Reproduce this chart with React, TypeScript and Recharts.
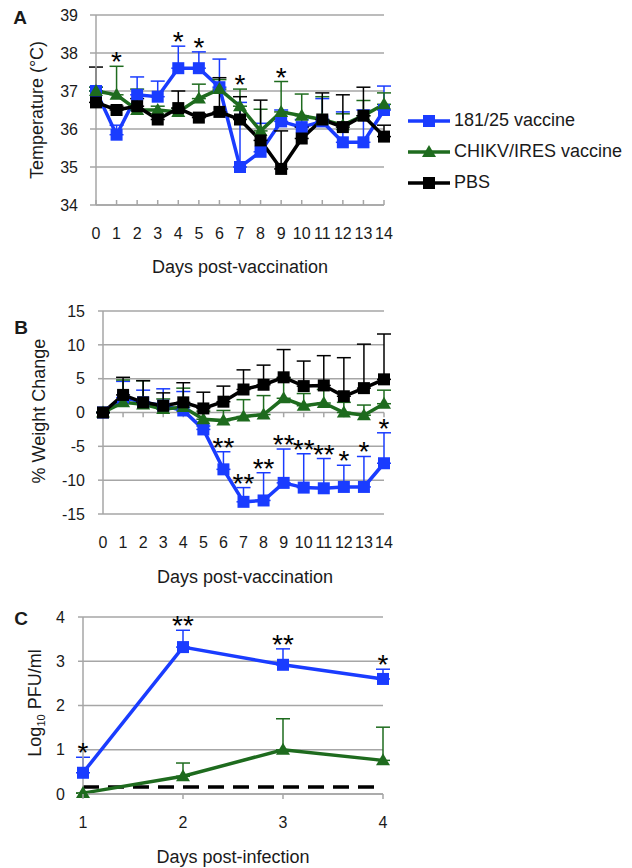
import React from 'react'
import {
  LineChart,
  Line,
  XAxis,
  YAxis,
  CartesianGrid,
  ErrorBar,
  ReferenceLine,
} from 'recharts'

const FONT = '"Liberation Sans", Arial, sans-serif'
const BLUE = '#1a3cff'
const GREEN = '#1e6b1e'
const BLACK = '#000000'
const GRID = '#a6a6a6'
const TEXT = '#1a1a1a'

const SERIES = ['181/25 vaccine', 'CHIKV/IRES vaccine', 'PBS']

// A + B: days post-vaccination
const VAC_DAYS = [0, 1, 2, 3, 4, 5, 6, 7, 8, 9, 10, 11, 12, 13, 14]

const TEMP_181 = [37.0, 35.85, 36.9, 36.85, 37.6, 37.6, 37.1, 35.0, 35.4, 36.2, 36.05, 36.2, 35.65, 35.65, 36.5]
const TEMP_181_ERR = [0.1, 0.25, 0.47, 0.41, 0.58, 0.43, 0.74, 1.7, 0.75, 0.3, 0.2, 0.6, 0.8, 0.85, 0.63]
const TEMP_IRES = [37.0, 36.9, 36.5, 36.5, 36.45, 36.8, 37.05, 36.6, 35.95, 36.45, 36.35, 36.25, 36.1, 36.35, 36.65]
const TEMP_IRES_ERR = [0.1, 0.75, 0.55, 0.1, 0.1, 0.38, 0.25, 0.45, 0.57, 0.8, 0.57, 0.6, 0.3, 0.4, 0.3]
const TEMP_PBS = [36.7, 36.5, 36.6, 36.25, 36.55, 36.3, 36.45, 36.25, 35.7, 34.95, 35.75, 36.25, 36.05, 36.35, 35.8]
const TEMP_PBS_ERR = [0.93, 0.1, 0.2, 0.1, 0.45, 0.1, 0.9, 0.6, 1.06, 1.0, 0.3, 0.7, 0.85, 0.75, 0.3]
const TEMP_STARS = ['', '*', '', '', '*', '*', '', '*', '', '*', '', '', '', '', '']

const WT_181 = [0, 2.2, 1.5, 1.0, 0.3, -2.5, -8.4, -13.2, -13.0, -10.4, -11.1, -11.2, -11.0, -11.0, -7.5]
const WT_181_ERR = [0, 2.4, 1.8, 2.5, 2.8, 0.5, 2.6, 2.1, 4.1, 5.0, 5.0, 4.4, 3.2, 4.5, 4.5]
const WT_IRES = [0, 1.5, 1.2, 0.5, 0.8, -1.0, -1.2, -0.6, -0.3, 2.1, 1.0, 1.4, 0.0, -0.4, 1.3]
const WT_IRES_ERR = [0, 3.3, 3.5, 1.5, 2.8, 1.2, 1.5, 2.5, 2.8, 3.0, 1.8, 2.0, 1.5, 1.5, 2.0]
const WT_PBS = [0, 2.6, 1.5, 1.0, 1.5, 0.6, 1.6, 3.4, 4.1, 5.2, 3.9, 4.0, 2.4, 3.6, 4.9]
const WT_PBS_ERR = [0, 2.6, 3.2, 1.9, 2.9, 2.4, 2.3, 2.9, 2.9, 4.1, 3.7, 4.4, 5.7, 6.5, 6.7]
const WT_STARS = ['', '', '', '', '', '', '**', '**', '**', '**', '**', '**', '*', '*', '*']

// C: days post-infection
const INF_DAYS = [1, 2, 3, 4]
const PFU_181 = [0.48, 3.32, 2.92, 2.6]
const PFU_181_ERR = [0.35, 0.38, 0.36, 0.22]
const PFU_IRES = [0.02, 0.4, 1.0, 0.76]
const PFU_IRES_ERR = [0, 0.3, 0.7, 0.75]
const PFU_STARS = ['*', '**', '**', '*']
const PFU_LIMIT = 0.16

const TEMP_TICKS = [34, 35, 36, 37, 38, 39]
const WT_TICKS = [-15, -10, -5, 0, 5, 10, 15]
const PFU_TICKS = [0, 1, 2, 3, 4]

// rows for recharts; starAt = top of the error bar the asterisks sit on
const tempData = VAC_DAYS.map((day, i) => {
  const tops = [
    TEMP_181[i] + TEMP_181_ERR[i],
    TEMP_IRES[i] + TEMP_IRES_ERR[i],
    TEMP_PBS[i] + TEMP_PBS_ERR[i],
  ]
  return {
    day,
    v181: TEMP_181[i],
    e181: [0, TEMP_181_ERR[i]],
    ires: TEMP_IRES[i],
    eIres: [0, TEMP_IRES_ERR[i]],
    pbs: TEMP_PBS[i],
    ePbs: [0, TEMP_PBS_ERR[i]],
    star: TEMP_STARS[i],
    starAt: TEMP_STARS[i] ? Math.max(...tops) : null,
  }
})

const wtData = VAC_DAYS.map((day, i) => ({
  day,
  v181: WT_181[i],
  e181: [0, WT_181_ERR[i]],
  ires: WT_IRES[i],
  eIres: [0, WT_IRES_ERR[i]],
  pbs: WT_PBS[i],
  ePbs: [0, WT_PBS_ERR[i]],
  star: WT_STARS[i],
  starAt: WT_STARS[i] ? WT_181[i] + WT_181_ERR[i] : null,
}))

const pfuData = INF_DAYS.map((day, i) => ({
  day,
  v181: PFU_181[i],
  e181: [0, PFU_181_ERR[i]],
  ires: PFU_IRES[i],
  eIres: [0, PFU_IRES_ERR[i]],
  star: PFU_STARS[i],
  starAt: PFU_STARS[i] ? PFU_181[i] + PFU_181_ERR[i] : null,
}))

const squareDot = (color: string) => (p: any) => {
  if (p.cy == null) return <g key={`sq-${p.index}`} />
  return <rect key={`sq-${p.index}`} x={p.cx - 6} y={p.cy - 6} width={12} height={12} fill={color} />
}

const triangleDot = (color: string) => (p: any) => {
  if (p.cy == null) return <g key={`tr-${p.index}`} />
  const { cx, cy } = p
  return (
    <path
      key={`tr-${p.index}`}
      d={`M${cx},${cy - 7} L${cx + 7},${cy + 5} L${cx - 7},${cy + 5} Z`}
      fill={color}
    />
  )
}

const starDot = (p: any) => {
  if (p.cy == null || !p.payload.star) return <g key={`st-${p.index}`} />
  return (
    <text
      key={`st-${p.index}`}
      x={p.cx}
      y={p.cy + 5}
      textAnchor="middle"
      fontSize={28}
      fontFamily={FONT}
      fill="#000"
    >
      {p.payload.star}
    </text>
  )
}

// x tick: label below the plot, small mark pointing up / down / none
const xTick = (mark: 'up' | 'down' | 'none') => (p: any) => {
  const { x, y, payload } = p
  return (
    <g>
      {mark === 'up' && <line x1={x} x2={x} y1={y} y2={y - 5} stroke={GRID} strokeWidth={1.5} />}
      {mark === 'down' && <line x1={x} x2={x} y1={y} y2={y + 5} stroke={GRID} strokeWidth={1.5} />}
      <text x={x} y={y + 34} textAnchor="middle" fontSize={16} fontFamily={FONT} fill={TEXT}>
        {payload.value}
      </text>
    </g>
  )
}

const yTickStyle = { fontSize: 16, fill: TEXT, fontFamily: FONT }

function seriesLines(withPbs: boolean) {
  const out = [
    <Line
      key="181"
      dataKey="v181"
      stroke={BLUE}
      strokeWidth={3.5}
      dot={squareDot(BLUE)}
      activeDot={false}
      isAnimationActive={false}
    >
      <ErrorBar dataKey="e181" direction="y" width={7} stroke={BLUE} strokeWidth={1.5} />
    </Line>,
    <Line
      key="ires"
      dataKey="ires"
      stroke={GREEN}
      strokeWidth={3.5}
      dot={triangleDot(GREEN)}
      activeDot={false}
      isAnimationActive={false}
    >
      <ErrorBar dataKey="eIres" direction="y" width={7} stroke={GREEN} strokeWidth={1.5} />
    </Line>,
  ]
  if (withPbs) {
    out.push(
      <Line
        key="pbs"
        dataKey="pbs"
        stroke={BLACK}
        strokeWidth={3.5}
        dot={squareDot(BLACK)}
        activeDot={false}
        isAnimationActive={false}
      >
        <ErrorBar dataKey="ePbs" direction="y" width={7} stroke={BLACK} strokeWidth={1.5} />
      </Line>
    )
  }
  out.push(
    <Line
      key="stars"
      dataKey="starAt"
      stroke="none"
      dot={starDot}
      activeDot={false}
      legendType="none"
      isAnimationActive={false}
    />
  )
  return out
}

function Abs({ x, y, children, rotate, style }: any) {
  return (
    <div
      style={{
        position: 'absolute',
        left: x,
        top: y,
        transform: `translate(-50%, -50%)${rotate ? ' rotate(-90deg)' : ''}`,
        whiteSpace: 'nowrap',
        ...style,
      }}
    >
      {children}
    </div>
  )
}

function LegendBox() {
  const marks = [
    <rect key="a" x={15} y={2} width={12} height={12} fill={BLUE} />,
    <path key="b" d="M21,1 L28,13 L14,13 Z" fill={GREEN} />,
    <rect key="c" x={15} y={2} width={12} height={12} fill={BLACK} />,
  ]
  const colors = [BLUE, GREEN, BLACK]
  return (
    <div style={{ position: 'absolute', left: 408, top: 105 }}>
      {SERIES.map((name, i) => (
        <div key={name} style={{ display: 'flex', alignItems: 'center', height: 31 }}>
          <svg width={44} height={16}>
            <line x1={0} x2={42} y1={8} y2={8} stroke={colors[i]} strokeWidth={3.5} />
            {marks[i]}
          </svg>
          <span style={{ fontSize: 18, marginLeft: 2 }}>{name}</span>
        </div>
      ))}
    </div>
  )
}

export default function App() {
  return (
    <div
      style={{
        position: 'absolute',
        left: 0,
        top: 0,
        width: 632,
        height: 868,
        background: '#fff',
        fontFamily: FONT,
        color: TEXT,
      }}
    >
      {/* A: temperature */}
      <div style={{ position: 'absolute', left: 0, top: 0 }}>
        <LineChart width={400} height={250} data={tempData} margin={{ top: 15, right: 16, bottom: 0, left: 0 }}>
          <CartesianGrid vertical={false} stroke={GRID} strokeWidth={1.5} />
          <XAxis
            dataKey="day"
            type="number"
            domain={[0, 14]}
            ticks={VAC_DAYS}
            height={45}
            axisLine={{ stroke: GRID, strokeWidth: 1.5 }}
            tickLine={false}
            tickSize={0}
            tickMargin={0}
            tick={xTick('up')}
            interval={0}
          />
          <YAxis
            domain={[34, 39]}
            ticks={TEMP_TICKS}
            width={96}
            axisLine={{ stroke: GRID, strokeWidth: 1.5 }}
            tickLine={{ stroke: GRID, strokeWidth: 1.5 }}
            tickSize={6}
            tickMargin={12}
            tick={yTickStyle}
            interval={0}
          />
          {seriesLines(true)}
        </LineChart>
      </div>

      {/* B: weight change */}
      <div style={{ position: 'absolute', left: 0, top: 296 }}>
        <LineChart width={400} height={263} data={wtData} margin={{ top: 15, right: 16, bottom: 0, left: 0 }}>
          <CartesianGrid vertical={false} stroke={GRID} strokeWidth={1.5} />
          <XAxis
            dataKey="day"
            type="number"
            domain={[0, 14]}
            ticks={VAC_DAYS}
            height={45}
            axisLine={false}
            tickLine={false}
            tickSize={0}
            tickMargin={0}
            tick={xTick('none')}
            interval={0}
          />
          <YAxis
            domain={[-15, 15]}
            ticks={WT_TICKS}
            width={103}
            axisLine={{ stroke: GRID, strokeWidth: 1.5 }}
            tickLine={{ stroke: GRID, strokeWidth: 1.5 }}
            tickSize={5}
            tickMargin={13}
            tick={yTickStyle}
            interval={0}
          />
          {VAC_DAYS.slice(1).map((d) => (
            <ReferenceLine
              key={`zt-${d}`}
              segment={[
                { x: d, y: 0 },
                { x: d, y: -0.7 },
              ]}
              stroke={GRID}
              strokeWidth={1.5}
            />
          ))}
          {seriesLines(true)}
        </LineChart>
      </div>

      {/* C: viremia */}
      <div style={{ position: 'absolute', left: 0, top: 602 }}>
        <LineChart width={400} height={237} data={pfuData} margin={{ top: 15, right: 17, bottom: 0, left: 0 }}>
          <CartesianGrid vertical={false} stroke={GRID} strokeWidth={1.5} />
          <XAxis
            dataKey="day"
            type="number"
            domain={[1, 4]}
            ticks={INF_DAYS}
            height={45}
            axisLine={{ stroke: GRID, strokeWidth: 1.5 }}
            tickLine={false}
            tickSize={0}
            tickMargin={0}
            tick={xTick('down')}
            interval={0}
          />
          <YAxis
            domain={[0, 4]}
            ticks={PFU_TICKS}
            width={83}
            axisLine={{ stroke: GRID, strokeWidth: 1.5 }}
            tickLine={{ stroke: GRID, strokeWidth: 1.5 }}
            tickSize={5}
            tickMargin={13}
            tick={yTickStyle}
            interval={0}
          />
          <ReferenceLine y={PFU_LIMIT} stroke="#000" strokeWidth={3.5} strokeDasharray="16 9" />
          {seriesLines(false)}
        </LineChart>
      </div>

      <LegendBox />

      {/* panel letters and axis titles */}
      <Abs x={20} y={18} style={{ fontSize: 19, fontWeight: 'bold' }}>A</Abs>
      <Abs x={21} y={328} style={{ fontSize: 19, fontWeight: 'bold' }}>B</Abs>
      <Abs x={21} y={619} style={{ fontSize: 19, fontWeight: 'bold' }}>C</Abs>

      <Abs x={37} y={110} rotate style={{ fontSize: 18 }}>Temperature (°C)</Abs>
      <Abs x={39} y={411} rotate style={{ fontSize: 18 }}>% Weight Change</Abs>
      <Abs x={36} y={703} rotate style={{ fontSize: 18 }}>
        Log<sub style={{ fontSize: 11 }}>10</sub> PFU/ml
      </Abs>

      <Abs x={240} y={267} style={{ fontSize: 18 }}>Days post-vaccination</Abs>
      <Abs x={245} y={577} style={{ fontSize: 18 }}>Days post-vaccination</Abs>
      <Abs x={233} y={857} style={{ fontSize: 18 }}>Days post-infection</Abs>
    </div>
  )
}
